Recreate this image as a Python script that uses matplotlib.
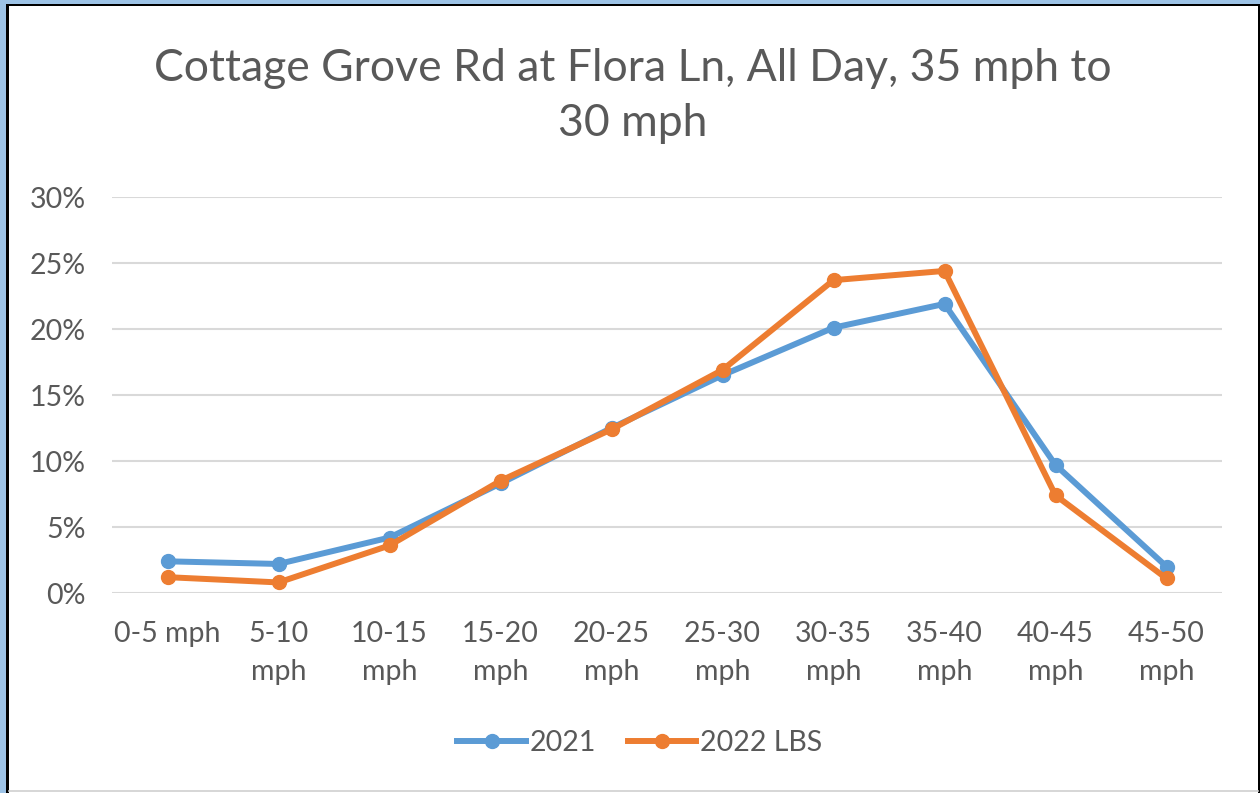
import matplotlib
matplotlib.use("Agg")
import matplotlib.pyplot as plt
from matplotlib.patches import Rectangle
from matplotlib.lines import Line2D
from matplotlib.ticker import PercentFormatter

plt.rcParams["font.family"] = ["Lato", "DejaVu Sans"]

categories = ["0-5 mph", "5-10\nmph", "10-15\nmph", "15-20\nmph", "20-25\nmph",
              "25-30\nmph", "30-35\nmph", "35-40\nmph", "40-45\nmph", "45-50\nmph"]
share_2021 = [2.4, 2.2, 4.2, 8.3, 12.5, 16.5, 20.1, 21.9, 9.7, 2.0]
share_2022 = [1.2, 0.8, 3.6, 8.5, 12.4, 16.9, 23.7, 24.4, 7.4, 1.1]
series_labels = ["2021", "2022 LBS"]
yticks = [0, 5, 10, 15, 20, 25, 30]

BLUE = "#5B9BD5"
ORANGE = "#ED7D31"
TEXT = "#595959"
GRID = "#D9D9D9"

fig = plt.figure(figsize=(12.6, 7.93), dpi=100)

# frame around the chart, as in the screenshot
fig.patches.append(Rectangle((0, 0), 1, 1, transform=fig.transFigure,
                             facecolor="#9DC3E6", edgecolor="none", zorder=-3))
fig.patches.append(Rectangle((6 / 1260, 0), 1, 1 - 4 / 793, transform=fig.transFigure,
                             facecolor="black", edgecolor="none", zorder=-2))
fig.patches.append(Rectangle((9 / 1260, 0), 1 - 11 / 1260, 1 - 6 / 793,
                             transform=fig.transFigure,
                             facecolor="white", edgecolor="none", zorder=-1))
fig.lines.append(Line2D([9 / 1260, 1 - 2 / 1260], [2 / 793, 2 / 793],
                        transform=fig.transFigure, color="#D0D0D0", linewidth=1.2))

ax = fig.add_axes([112 / 1260, 1 - 593 / 793, 1110 / 1260, 396 / 793])
ax.set_facecolor("none")

x = list(range(len(categories)))
for vals, color, label in [(share_2021, BLUE, series_labels[0]),
                           (share_2022, ORANGE, series_labels[1])]:
    ax.plot(x, vals, "-o", color=color, linewidth=4.3, markersize=10,
            label=label, solid_joinstyle="round", zorder=3)

ax.set_xlim(-0.5, len(categories) - 0.5)
ax.set_ylim(0, 30)
ax.set_yticks(yticks)
ax.yaxis.set_major_formatter(PercentFormatter(decimals=0))
ax.set_xticks(x)
ax.set_xticklabels(categories, linespacing=1.6)
ax.tick_params(axis="both", length=0, labelsize=20.5, colors=TEXT)
ax.tick_params(axis="x", pad=20)
ax.tick_params(axis="y", pad=19)
for lbl in ax.get_xticklabels():
    lbl.set_verticalalignment("top")
ax.grid(axis="y", color=GRID, linewidth=1.5)
ax.set_axisbelow(True)
for s in ax.spines.values():
    s.set_visible(False)

fig.text(633 / 1260, 1 - 96 / 793,
         "Cottage Grove Rd at Flora Ln, All Day, 35 mph to\n30 mph",
         ha="center", va="center", fontsize=32, color=TEXT, linespacing=1.42)

handles = [Line2D([], [], color=BLUE, linewidth=4.3, marker="o", markersize=10),
           Line2D([], [], color=ORANGE, linewidth=4.3, marker="o", markersize=10)]
fig.legend(handles, series_labels, loc="center", bbox_to_anchor=(640 / 1260, 1 - 743 / 793),
           ncol=2, frameon=False, fontsize=20.5, labelcolor=TEXT, handlelength=2.4,
           handletextpad=0.15, columnspacing=1.1)

fig.savefig("out.png", dpi=100)
